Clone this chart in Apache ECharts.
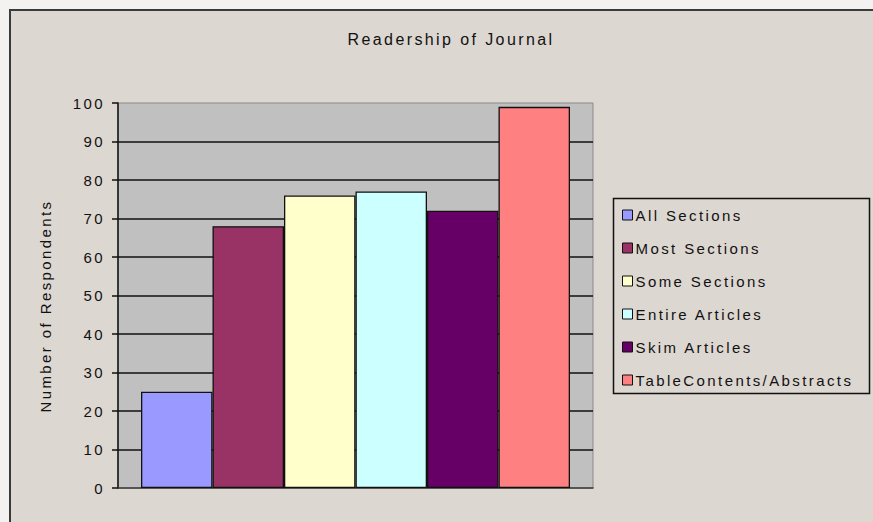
<!DOCTYPE html>
<html>
<head>
<meta charset="utf-8">
<style>
  html, body { margin: 0; padding: 0; background: #f4f2f0; }
  #chart { width: 873px; height: 522px; letter-spacing: 2.4px; }
</style>
<script src="https://cdn.jsdelivr.net/npm/echarts@6/dist/echarts.min.js"></script>
</head>
<body>
<div id="chart"></div>
<script>
// Survey: how respondents read the journal
const chartTitle = 'Readership of Journal';
const yAxisTitle = 'Number of Respondents';
const categories = ['All Sections', 'Most Sections', 'Some Sections', 'Entire Articles', 'Skim Articles', 'TableContents/Abstracts'];
const respondents = [25, 68, 76, 77, 72, 99];
const barColors = ['#9999ff', '#993366', '#ffffcc', '#ccffff', '#660066', '#ff8080'];
const yTicks = { min: 0, max: 100, step: 10 };

const FONT = '"Liberation Sans", Arial, sans-serif';

const chart = echarts.init(document.getElementById('chart'), null, { renderer: 'svg' });

const series = categories.map((name, i) => ({
  name: name,
  type: 'bar',
  data: [respondents[i]],
  barWidth: 71.5,
  barGap: '0%',
  itemStyle: { color: barColors[i], borderColor: '#111', borderWidth: 1.3 },
  emphasis: { disabled: true }
}));

chart.setOption({
  animation: false,
  backgroundColor: 'transparent',
  textStyle: { fontFamily: FONT },
  title: {
    text: chartTitle,
    left: 446,
    top: 26,
    textAlign: 'center',
    textStyle: { fontFamily: FONT, fontSize: 16, fontWeight: 'normal', color: '#111' }
  },
  graphic: [
    {
      type: 'rect', z: -100, silent: true,
      shape: { x: 10, y: 10, width: 900, height: 600 },
      style: { fill: '#ddd7d1', stroke: '#3a3a3a', lineWidth: 2 }
    },
    {
      type: 'rect', z: 50, silent: true,
      shape: { x: 613.5, y: 198.5, width: 256, height: 195 },
      style: { fill: 'none', stroke: '#111', lineWidth: 1.5 }
    },
    {
      type: 'text', z: 50, silent: true,
      x: 45, y: 306, rotation: Math.PI / 2,
      style: {
        text: yAxisTitle, fontFamily: FONT, fontSize: 15, fill: '#111',
        align: 'center', verticalAlign: 'middle'
      }
    }
  ],
  legend: {
    orient: 'vertical',
    left: 622,
    top: 207,
    padding: 0,
    itemGap: 17,
    itemWidth: 10,
    itemHeight: 10,
    icon: 'rect',
    selectedMode: false,
    itemStyle: { borderColor: '#111', borderWidth: 1 },
    textStyle: { fontFamily: FONT, fontSize: 15, color: '#111', lineHeight: 16, padding: [0, 0, 0, -2] },
    data: categories
  },
  grid: {
    left: 118, right: 280, top: 103, bottom: 34,
    show: true, backgroundColor: '#c0c0c0', borderColor: '#8a8a8a', borderWidth: 1
  },
  xAxis: {
    type: 'category',
    data: [''],
    axisLine: { show: true, lineStyle: { color: '#3a3a3a', width: 1.5 } },
    axisTick: { show: false },
    axisLabel: { show: false },
    splitLine: { show: false }
  },
  yAxis: {
    type: 'value',
    min: yTicks.min, max: yTicks.max, interval: yTicks.step,
    axisLine: { show: true, lineStyle: { color: '#111', width: 1.5 } },
    axisTick: { show: true, inside: false, length: 6, lineStyle: { color: '#111', width: 1.5 } },
    axisLabel: { fontFamily: FONT, fontSize: 15, color: '#111', margin: 13 },
    splitLine: { show: true, showMaxLine: false, showMinLine: false, lineStyle: { color: '#111', width: 1.5 } }
  },
  series: series
});
</script>
</body>
</html>
